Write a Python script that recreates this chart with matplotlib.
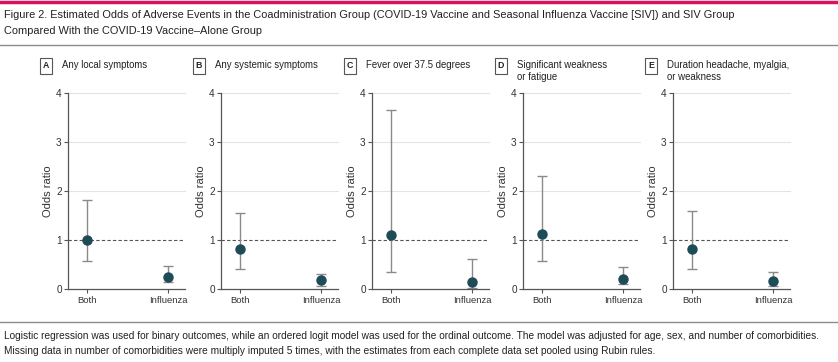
import matplotlib
matplotlib.use("Agg")
import matplotlib.pyplot as plt

plt.rcParams["font.family"] = ["Liberation Sans", "DejaVu Sans"]

# data: odds ratio with 95% CI, groups Both / Influenza
groups = ["Both", "Influenza"]
letters = ["A", "B", "C", "D", "E"]
titles = ["Any local symptoms", "Any systemic symptoms", "Fever over 37.5 degrees",
          "Significant weakness\nor fatigue", "Duration headache, myalgia,\nor weakness"]
or_both = [0.99, 0.81, 1.10, 1.13, 0.81]
lo_both = [0.57, 0.41, 0.34, 0.57, 0.41]
hi_both = [1.81, 1.56, 3.65, 2.31, 1.60]
or_flu = [0.25, 0.18, 0.15, 0.20, 0.17]
lo_flu = [0.14, 0.07, 0.03, 0.10, 0.07]
hi_flu = [0.46, 0.31, 0.62, 0.45, 0.35]

W, H = 838, 362
fig = plt.figure(figsize=(W / 100, H / 100), dpi=100)

DOT = "#1d4b57"
BAR = "#8a8a8a"
TXT = "#333333"

def px(x, y):
    return x / W, 1 - y / H

# header / footer rules
fig.add_artist(plt.Line2D([0, 1], [1 - 2 / H] * 2, color="#d6135f", lw=2.5))
fig.add_artist(plt.Line2D([0, 1], [1 - 45 / H] * 2, color="#8c8c8c", lw=1))
fig.add_artist(plt.Line2D([0, 1], [1 - 322 / H] * 2, color="#8c8c8c", lw=1))

fig.text(*px(4, 15), "Figure 2. Estimated Odds of Adverse Events in the Coadministration Group "
         "(COVID-19 Vaccine and Seasonal Influenza Vaccine [SIV]) and SIV Group",
         fontsize=7.9, va="center", ha="left", color="#222222")
fig.text(*px(4, 31), "Compared With the COVID-19 Vaccine\u2013Alone Group",
         fontsize=7.9, va="center", ha="left", color="#222222")
fig.text(*px(4, 336), "Logistic regression was used for binary outcomes, while an ordered logit model "
         "was used for the ordinal outcome. The model was adjusted for age, sex, and number of comorbidities.",
         fontsize=7.3, va="center", ha="left", color="#222222")
fig.text(*px(4, 351), "Missing data in number of comorbidities were multiply imputed 5 times, with the "
         "estimates from each complete data set pooled using Rubin rules.",
         fontsize=7.3, va="center", ha="left", color="#222222")

lefts = [68, 221, 372, 523, 673]
ax_w, top, bottom = 117, 93, 289

for i in range(5):
    x0, y0 = px(lefts[i], bottom)
    ax = fig.add_axes([x0, y0, ax_w / W, (bottom - top) / H])
    ax.set_xlim(-0.23, 1.21)
    ax.set_ylim(0, 4)
    for g in [2, 3, 4]:
        ax.axhline(g, color="#e3e3e3", lw=0.8, zorder=0, clip_on=False)
    ax.axhline(1, color="#555555", lw=0.8, ls=(0, (3, 2)), zorder=1)
    vals = [or_both[i], or_flu[i]]
    lo = [or_both[i] - lo_both[i], or_flu[i] - lo_flu[i]]
    hi = [hi_both[i] - or_both[i], hi_flu[i] - or_flu[i]]
    ax.errorbar([0, 1], vals, yerr=[lo, hi], fmt="none", ecolor=BAR, elinewidth=1,
                capsize=3.3, capthick=1, zorder=2)
    ax.plot([0, 1], vals, "o", color=DOT, ms=6.5, zorder=3)
    for s in ["top", "right"]:
        ax.spines[s].set_visible(False)
    for s in ["left", "bottom"]:
        ax.spines[s].set_color("#555555")
        ax.spines[s].set_linewidth(0.9)
    ax.set_xticks([0, 1])
    ax.set_xticklabels(groups)
    ax.set_yticks([0, 1, 2, 3, 4])
    ax.tick_params(length=3, width=0.8, color="#555555", labelsize=6.8, labelcolor=TXT, pad=2)
    ax.tick_params(axis="y", labelsize=7.2, pad=1.5)
    ax.set_ylabel("Odds ratio", fontsize=8, color=TXT, labelpad=2)
    # panel heading
    fig.text(*px(lefts[i] - 22, 66), letters[i], fontsize=6.3, fontweight="bold",
             ha="center", va="center", color="#222222",
             bbox=dict(boxstyle="square,pad=0.35", fc="white", ec="#555555", lw=0.8))
    fig.text(*px(lefts[i] - 6, 60), titles[i], fontsize=6.9, ha="left", va="top",
             color="#222222", linespacing=1.3)

fig.savefig("out.png", dpi=100)
